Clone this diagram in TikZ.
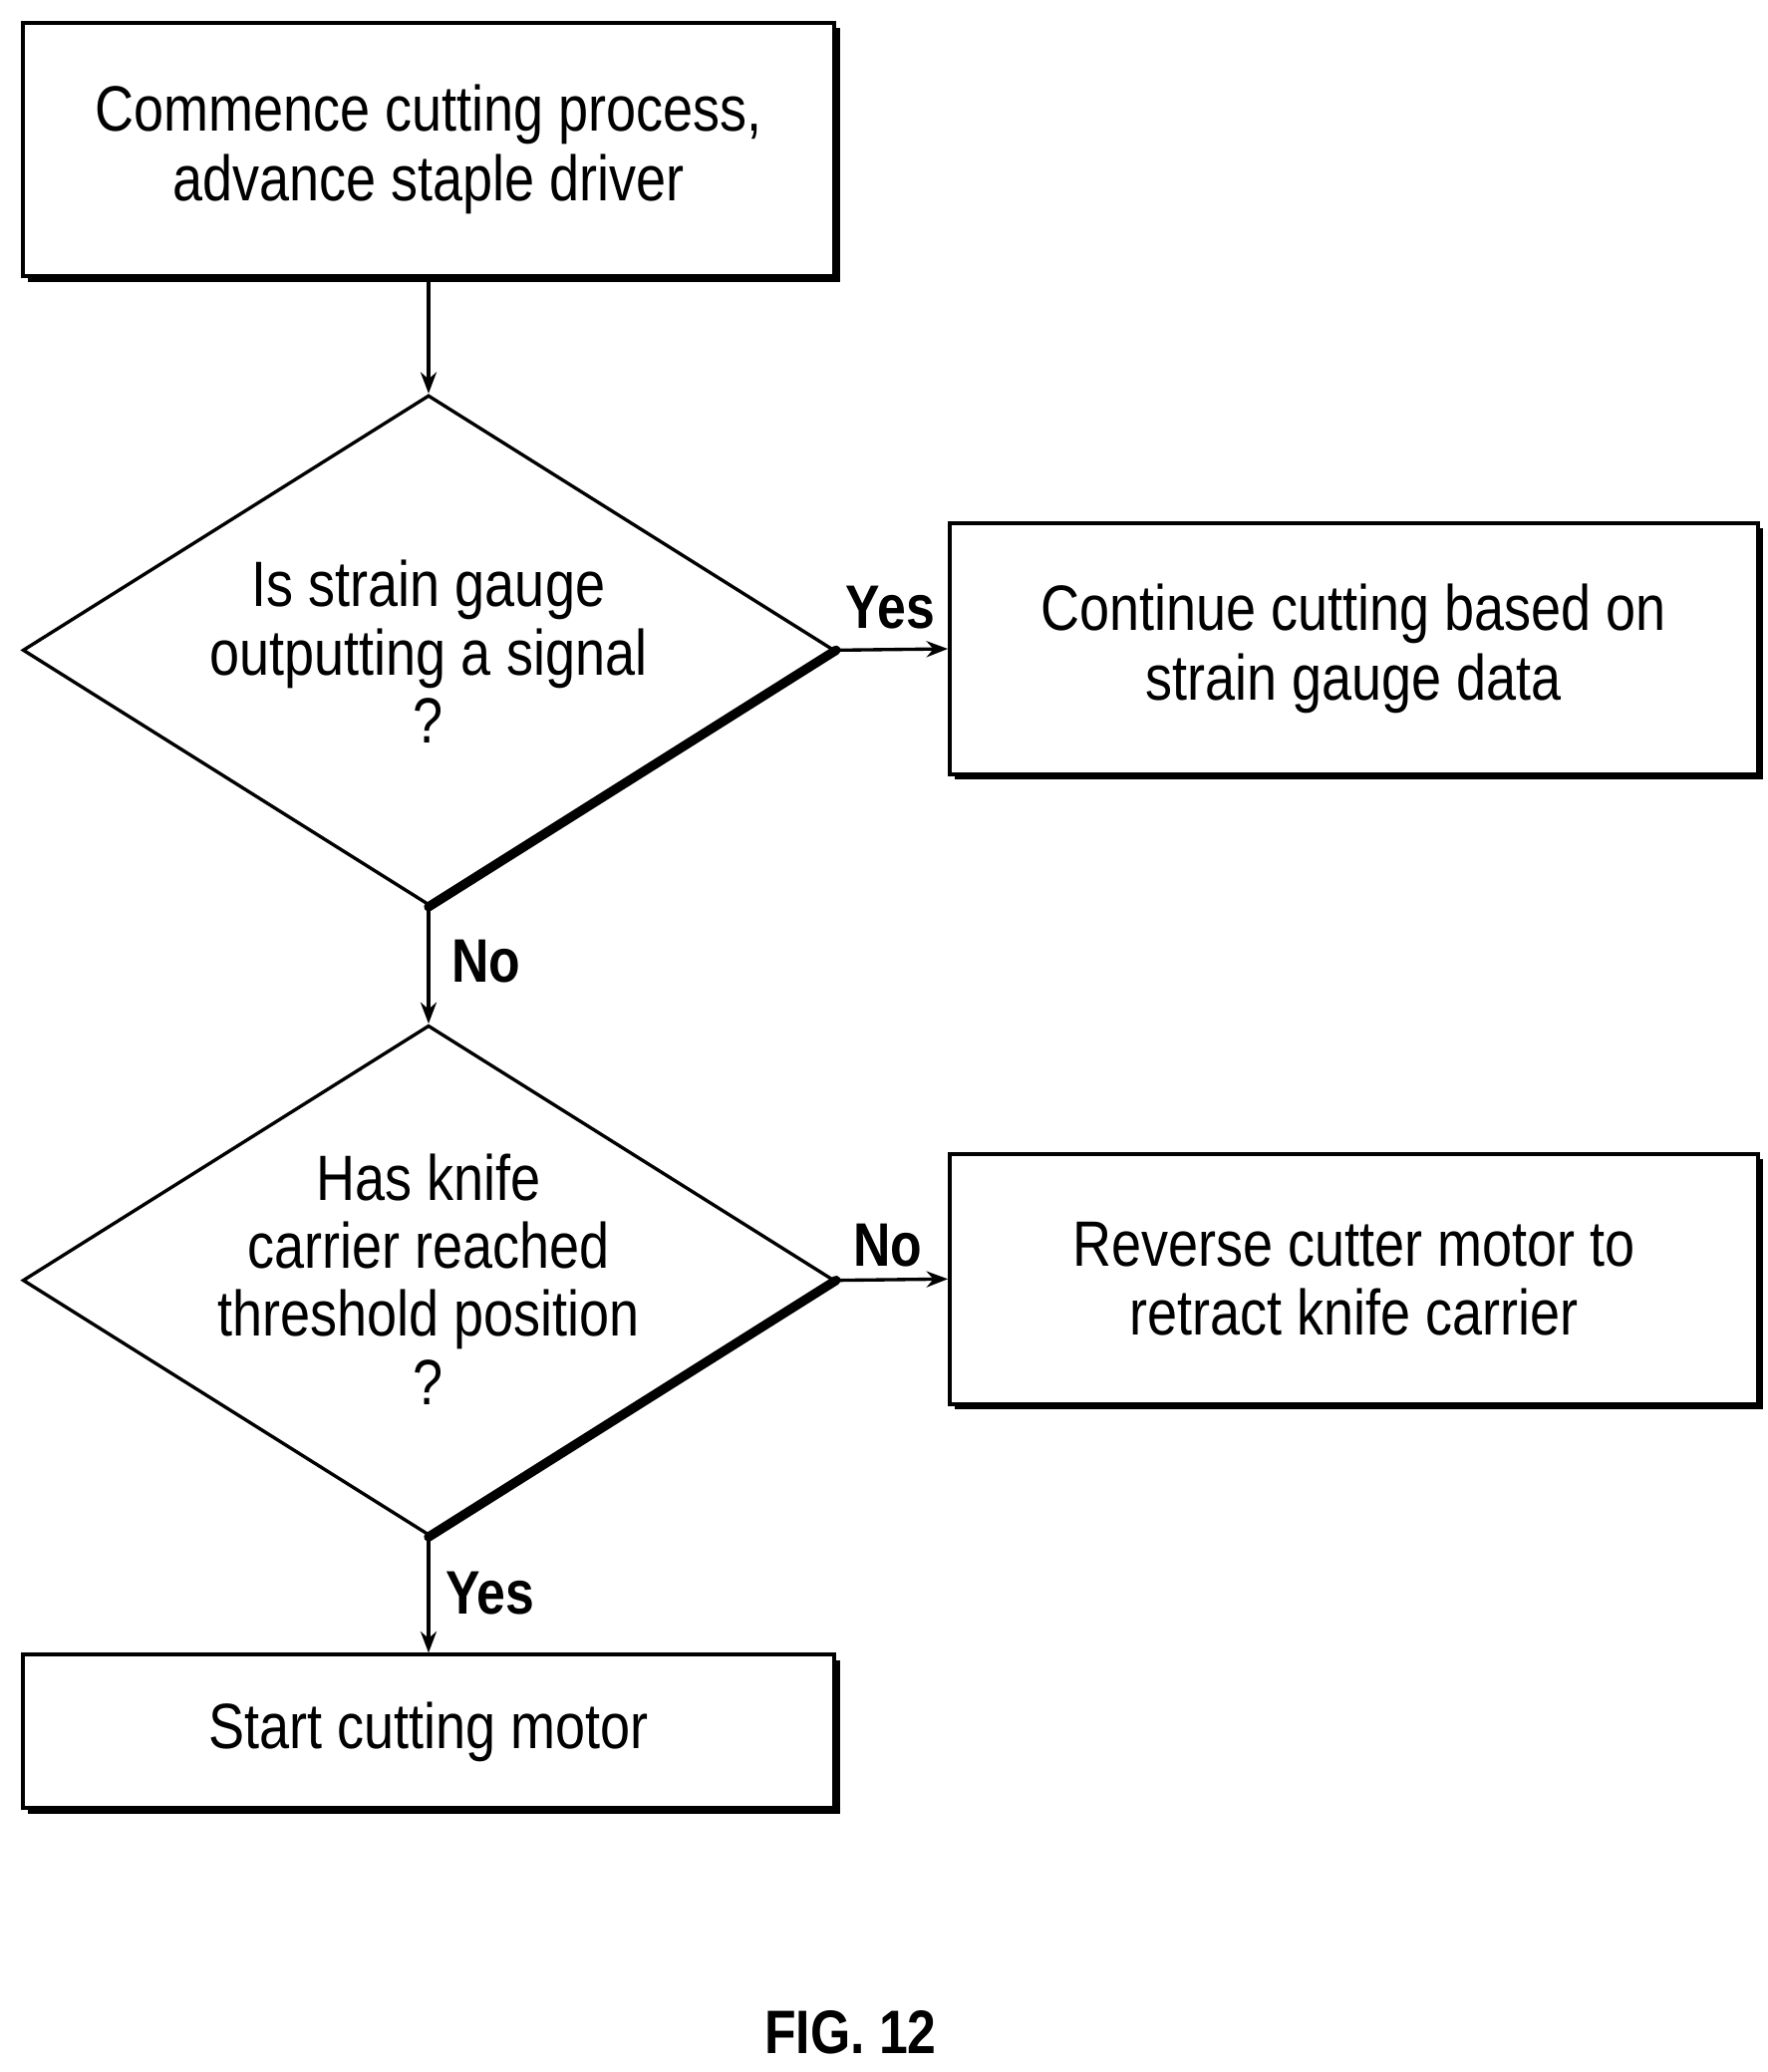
\documentclass[tikz,border=0pt]{standalone}
\usepackage{fontspec}
\setmainfont{Liberation Sans}[FakeStretch=0.84]
\usetikzlibrary{shapes.geometric,shadows,arrows.meta}
\begin{document}
\begin{tikzpicture}[x=1pt,y=-1pt,
 box/.style={draw,line width=3pt,fill=white,inner sep=0,align=center,font=\fontsize{48}{52}\selectfont,
   drop shadow={shadow xshift=4pt,shadow yshift=-4pt,opacity=1,fill=black}},
 dia/.style={draw,line width=2.5pt,diamond,inner sep=0,minimum width=608pt,minimum height=382pt},
 txt/.style={align=center,font=\fontsize{48}{51}\selectfont},
 lab/.style={font=\bfseries\fontsize{46}{51}\selectfont},
 arr/.style={line width=2.5pt,-{Stealth[length=16pt,width=12pt]}}]
\useasboundingbox (0,0) rectangle (1324,1552);
\node[box,minimum width=608pt,minimum height=190pt] (b1) at (321,112) {Commence cutting process,\\advance staple driver};
\node[dia] (d1) at (321,487) {};
\draw[line width=7pt,line cap=round] (d1.east) -- (d1.south);
\node[txt] at (321,488) {Is strain gauge\\outputting a signal\\?};
\node[box,minimum width=605pt,minimum height=188pt] (b2) at (1014,486) {Continue cutting based on\\strain gauge data};
\node[dia] (d2) at (321,959) {};
\draw[line width=7pt,line cap=round] (d2.east) -- (d2.south);
\node[txt] at (321,958) {Has knife\\carrier reached\\threshold position\\?};
\node[box,minimum width=605pt,minimum height=187pt] (b3) at (1014,958) {Reverse cutter motor to\\retract knife carrier};
\node[box,minimum width=608pt,minimum height=115pt] (b4) at (321,1297) {Start cutting motor};
\draw[arr] (b1) -- (d1.north);
\draw[arr] (d1.east) -- (b2.west);
\draw[arr] (d1.south) -- (d2.north);
\draw[arr] (d2.east) -- (b3.west);
\draw[arr] (d2.south) -- (b4.north);
\node[lab] (y1) at (667,455) {Yes};
\node[lab] (n1) at (364,720) {No};
\node[lab] (n2) at (665,933) {No};
\node[lab] (y2) at (367,1193) {Yes};
\node[lab] (fig) at (637,1522) {FIG. 12};
\end{tikzpicture}
\end{document}
